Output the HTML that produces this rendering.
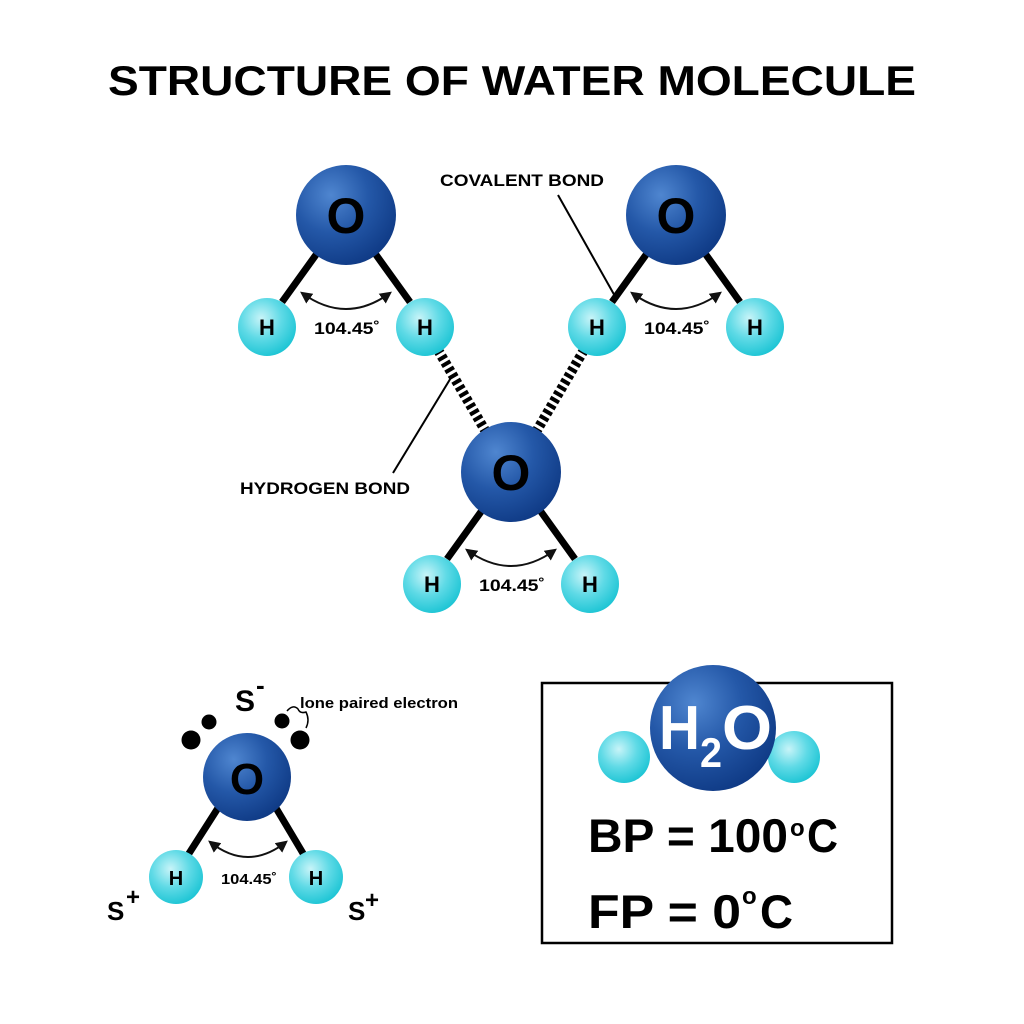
<!DOCTYPE html>
<html><head><meta charset="utf-8"><style>body{margin:0;background:#fff}svg{display:block}text{font-family:"Liberation Sans",sans-serif;font-weight:bold}</style></head><body>
<svg width="1024" height="1024" viewBox="0 0 1024 1024" xmlns="http://www.w3.org/2000/svg">
<defs>
<radialGradient id="gO" cx="0.35" cy="0.3" r="0.75"><stop offset="0" stop-color="#4f86d0"/><stop offset="0.5" stop-color="#2458a8"/><stop offset="1" stop-color="#0f3a85"/></radialGradient>
<radialGradient id="gH" cx="0.4" cy="0.35" r="0.7"><stop offset="0" stop-color="#c8f4f8"/><stop offset="0.5" stop-color="#5fdae6"/><stop offset="1" stop-color="#18c3d3"/></radialGradient>
<marker id="ar" viewBox="0 0 10 10" refX="8" refY="5" markerWidth="6" markerHeight="6" orient="auto-start-reverse"><path d="M0,0L10,5L0,10z" fill="#111"/></marker>
</defs>
<text x="108" y="95" font-size="42" textLength="808" lengthAdjust="spacingAndGlyphs">STRUCTURE OF WATER MOLECULE</text>

<g stroke="#000" stroke-width="10" stroke-dasharray="4,3">
<line x1="438" y1="350" x2="486" y2="432"/>
<line x1="584" y1="350" x2="536" y2="432"/>
</g>
<g stroke="#000" stroke-width="2">
<line x1="558" y1="195" x2="616" y2="298"/>
<line x1="393" y1="473" x2="452" y2="376"/>
</g>
<text x="440" y="186" font-size="17" textLength="164" lengthAdjust="spacingAndGlyphs">COVALENT BOND</text>
<text x="240" y="494" font-size="17" textLength="170" lengthAdjust="spacingAndGlyphs">HYDROGEN BOND</text>

<g id="m1">
<g stroke="#000" stroke-width="7"><line x1="318" y1="252" x2="282" y2="302"/><line x1="374" y1="252" x2="410" y2="302"/></g>
<path d="M302,293 Q346,325 390,293" fill="none" stroke="#111" stroke-width="2" marker-start="url(#ar)" marker-end="url(#ar)"/>
<circle cx="346" cy="215" r="50" fill="url(#gO)"/>
<circle cx="267" cy="327" r="29" fill="url(#gH)"/>
<circle cx="425" cy="327" r="29" fill="url(#gH)"/>
<text x="346" y="233" font-size="50" text-anchor="middle">O</text>
<text x="267" y="335" font-size="22" text-anchor="middle">H</text>
<text x="425" y="335" font-size="22" text-anchor="middle">H</text>
<text x="314" y="334" font-size="17" textLength="66" lengthAdjust="spacingAndGlyphs">104.45˚</text>
</g>
<use href="#m1" x="330" y="0"/>
<use href="#m1" x="165" y="257"/>

<g stroke="#000" stroke-width="7"><line x1="218" y1="808" x2="188" y2="855"/><line x1="276" y1="808" x2="304" y2="855"/></g>
<path d="M210,842 Q248,872 286,842" fill="none" stroke="#111" stroke-width="2" marker-start="url(#ar)" marker-end="url(#ar)"/>
<circle cx="247" cy="777" r="44" fill="url(#gO)"/>
<circle cx="176" cy="877" r="27" fill="url(#gH)"/>
<circle cx="316" cy="877" r="27" fill="url(#gH)"/>
<text x="247" y="794" font-size="44" text-anchor="middle">O</text>
<text x="176" y="885" font-size="20" text-anchor="middle">H</text>
<text x="316" y="885" font-size="20" text-anchor="middle">H</text>
<text x="221" y="884" font-size="15" textLength="56" lengthAdjust="spacingAndGlyphs">104.45˚</text>
<circle cx="191" cy="740" r="9.5"/><circle cx="209" cy="722" r="7.5"/>
<circle cx="282" cy="721" r="7.5"/><circle cx="300" cy="740" r="9.5"/>
<path d="M287,711 Q293,704 298,709 Q300,714 306,712 Q310,720 306,728" fill="none" stroke="#000" stroke-width="1.5"/>
<text x="235" y="711" font-size="30">S</text><text x="256" y="694" font-size="26">-</text>
<text x="300" y="708" font-size="15" textLength="158" lengthAdjust="spacingAndGlyphs">lone paired electron</text>
<text x="107" y="920" font-size="26">S</text><text x="126" y="905" font-size="24">+</text>
<text x="348" y="920" font-size="26">S</text><text x="365" y="908" font-size="24">+</text>

<rect x="542" y="683" width="350" height="260" fill="none" stroke="#000" stroke-width="2.5"/>
<circle cx="624" cy="757" r="26" fill="url(#gH)"/>
<circle cx="794" cy="757" r="26" fill="url(#gH)"/>
<circle cx="713" cy="728" r="63" fill="url(#gO)"/>
<text x="659" y="749" font-size="62" fill="#fff" textLength="41" lengthAdjust="spacingAndGlyphs">H</text>
<text x="700" y="767" font-size="42" fill="#fff" textLength="22" lengthAdjust="spacingAndGlyphs">2</text>
<text x="722" y="749" font-size="62" fill="#fff" textLength="50" lengthAdjust="spacingAndGlyphs">O</text>
<text x="588" y="852" font-size="47" textLength="200" lengthAdjust="spacingAndGlyphs">BP = 100</text>
<text x="807" y="852" font-size="47" textLength="31" lengthAdjust="spacingAndGlyphs">C</text>
<text x="790" y="836" font-size="24">o</text>
<text x="588" y="928" font-size="47" textLength="153" lengthAdjust="spacingAndGlyphs">FP =  0</text>
<text x="760" y="928" font-size="47" textLength="33" lengthAdjust="spacingAndGlyphs">C</text>
<text x="742" y="904" font-size="24">o</text>
</svg>
</body></html>
